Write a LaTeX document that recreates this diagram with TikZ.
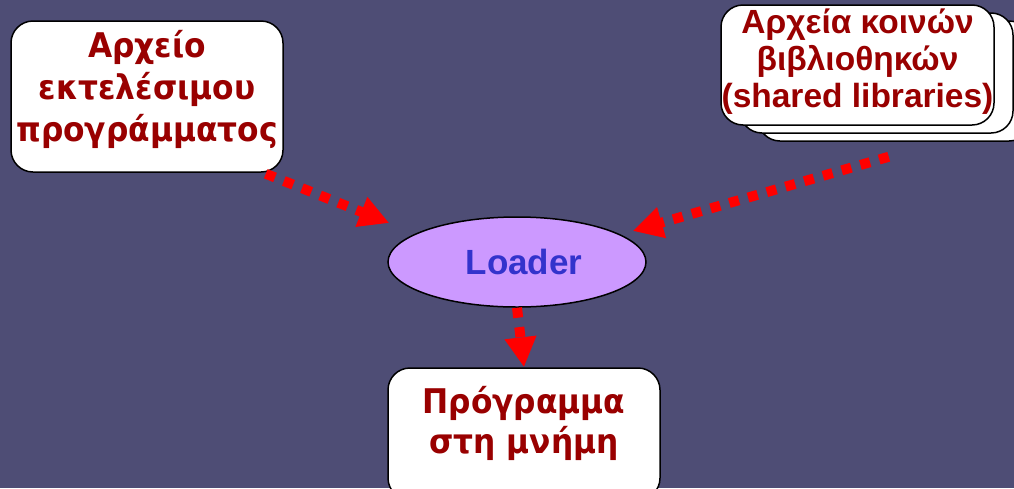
\documentclass[tikz,border=0pt]{standalone}
\usepackage{fontspec}
\setmainfont{Liberation Sans}
\newfontfamily\dv{DejaVu Sans}[FakeStretch=0.92]
\usetikzlibrary{arrows.meta,shapes.geometric,calc}
\definecolor{bg}{RGB}{78,77,117}
\definecolor{txtred}{RGB}{153,0,0}
\definecolor{lilac}{RGB}{204,153,255}
\definecolor{ldrblue}{RGB}{51,51,204}
\newcommand{\liftlines}[2]{\raisebox{0pt}[\height][\dimexpr\depth+#1\relax]{\begin{tabular}{@{}c@{}}#2\end{tabular}}}
\begin{document}
\begin{tikzpicture}[x=1pt,y=-1pt,
  box/.style={draw=black,line width=1.5pt,fill=white,rounded corners=22pt,align=center,text=txtred,inner sep=0pt},
  arr/.style={draw=red,line width=10pt,dash pattern=on 10pt off 9.5pt,-{Triangle[length=30pt,width=30pt]}},
  tahomaish/.style={font=\dv\bfseries\fontsize{34}{42}\selectfont},
  arialish/.style={font=\bfseries\fontsize{33.5}{37}\selectfont}
]
\fill[bg] (0,0) rectangle (1014,488);
\useasboundingbox (0,0) rectangle (1014,488);

\node[box,tahomaish,minimum width=272pt,minimum height=151pt] (exe) at (147,96.5)
  {\liftlines{10pt}{Αρχείο\\εκτελέσιμου\\προγράμματος}};

\node[box,minimum width=273pt,minimum height=120pt] (lib3) at (894.5,81) {};
\node[box,minimum width=273pt,minimum height=120pt] (lib2) at (876.5,73) {};
\node[box,arialish,minimum width=273pt,minimum height=120pt] (lib) at (857.5,65)
  {\liftlines{4pt}{Αρχεία κοινών\\βιβλιοθηκών\\(shared libraries)}};

\node[ellipse,draw=black,line width=1.5pt,fill=lilac,minimum width=258pt,minimum height=90pt,inner sep=0pt,
  font=\bfseries\fontsize{35}{40}\selectfont,text=ldrblue] (ldr) at (517,262) {\hspace*{14pt}Loader};

\node[box,font=\dv\bfseries\fontsize{34}{40}\selectfont,minimum width=272pt,minimum height=132pt] (prog) at (524,434)
  {\liftlines{18pt}{Πρόγραμμα\\στη μνήμη}};

\draw[arr] ($(exe.south east)+(-18,1)$) -- ($(ldr.west)+(2,-39)$);
\draw[arr] ($(lib.south east)+(-106,31)$) -- ($(ldr.east)+(-14,-31)$);
\draw[arr] (ldr.south) -- (prog.north);
\end{tikzpicture}
\end{document}
